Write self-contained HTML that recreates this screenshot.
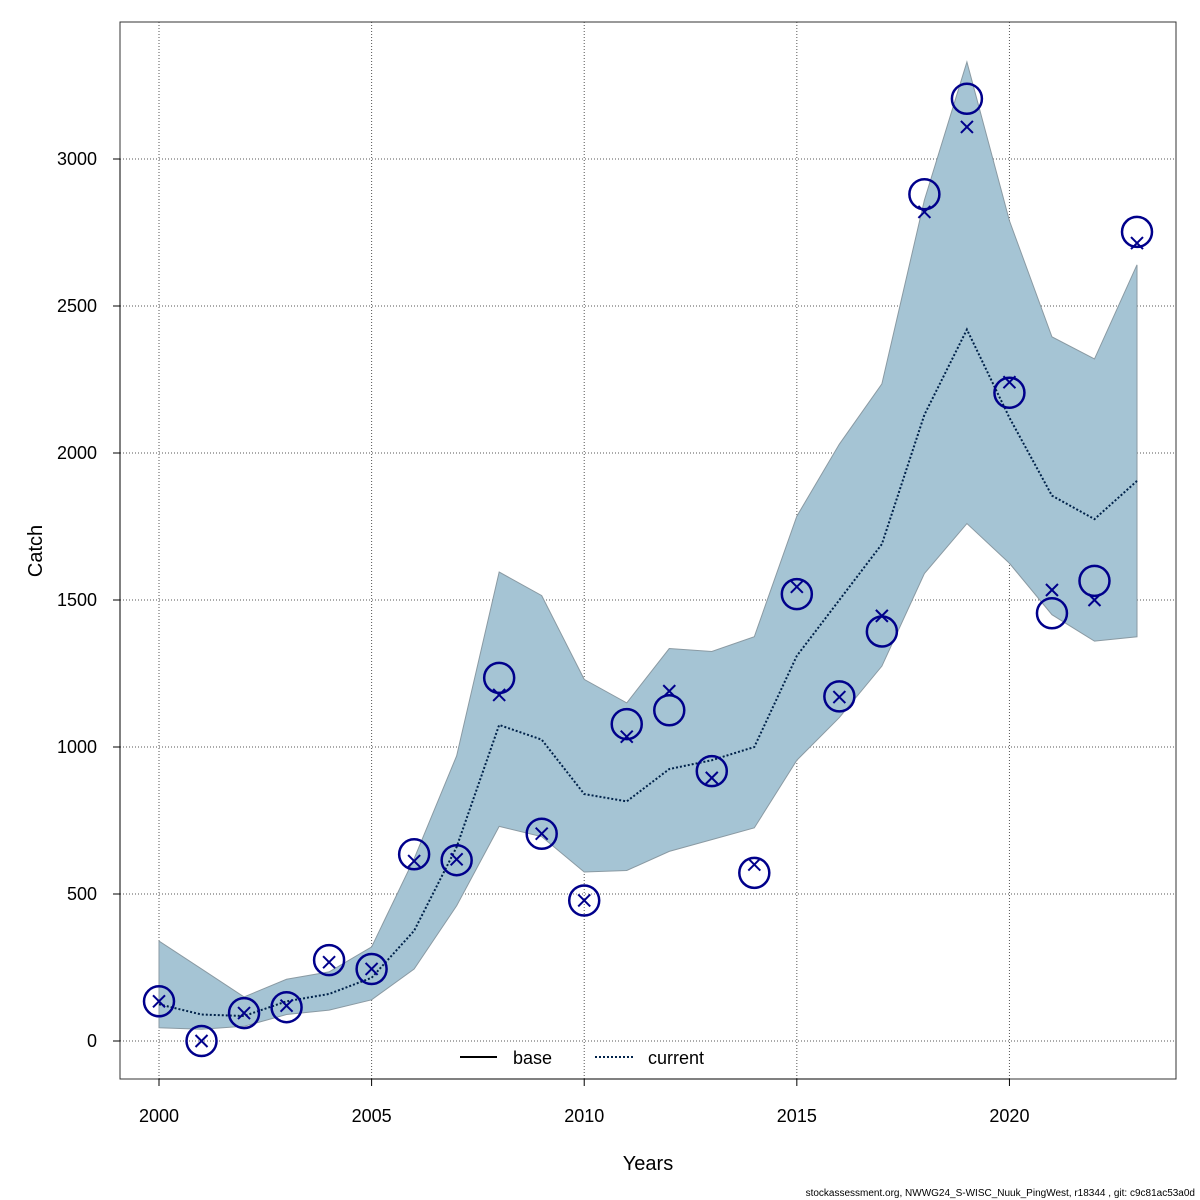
<!DOCTYPE html>
<html><head><meta charset="utf-8"><style>
html,body{margin:0;padding:0;background:#fff;}
svg{display:block;font-family:"Liberation Sans",sans-serif;}
</style></head><body>
<svg id="chart" width="1200" height="1200" viewBox="0 0 1200 1200"></svg>
<script>
const years=[2000,2001,2002,2003,2004,2005,2006,2007,2008,2009,2010,2011,2012,2013,2014,2015,2016,2017,2018,2019,2020,2021,2022,2023];
const observed=[135,0,95,115,275,245,635,615,1235,705,478,1078,1125,918,572,1520,1172,1393,2880,3205,2205,1455,1565,2752];
const predicted=[135,0,95,120,268,245,612,618,1177,705,478,1035,1190,895,600,1545,1170,1446,2820,3109,2241,1534,1500,2714];
const median=[125,90,85,135,160,215,375,660,1075,1025,840,815,925,955,1000,1310,1500,1690,2130,2420,2120,1855,1775,1905];
const upper=[340,245,150,210,235,320,620,970,1595,1515,1230,1150,1335,1325,1375,1785,2030,2235,2860,3330,2790,2395,2320,2640];
const lower=[45,40,50,90,105,140,245,460,730,695,575,580,645,685,725,955,1100,1275,1590,1760,1625,1450,1360,1375];
const xTicks=[2000,2005,2010,2015,2020];
const yTicks=[0,500,1000,1500,2000,2500,3000];

const NS="http://www.w3.org/2000/svg";
const svg=document.getElementById('chart');
const X=v=>159+(v-2000)*(1137-159)/23;
const Y=v=>1041-v*(1041-159)/3000;
function mk(tag,attrs,parent){const e=document.createElementNS(NS,tag);for(const k in attrs)e.setAttribute(k,attrs[k]);(parent||svg).appendChild(e);return e;}

const grid=mk('g',{});


xTicks.forEach(t=>{mk('line',{x1:X(t),x2:X(t),y1:22,y2:1079,stroke:'#555','stroke-width':1,'stroke-dasharray':'1,2'},grid);});
yTicks.forEach(t=>{mk('line',{x1:120,x2:1176,y1:Y(t),y2:Y(t),stroke:'#555','stroke-width':1,'stroke-dasharray':'1,2'},grid);});

let pts=years.map((y,i)=>X(y)+','+Y(upper[i]));
pts=pts.concat(years.slice().reverse().map((y,j)=>{const i=years.length-1-j;return X(y)+','+Y(lower[i]);}));
const band=mk('polygon',{points:pts.join(' '),fill:'#a5c4d4',stroke:'#8a9aa3','stroke-width':1});



const ml=mk('polyline',{points:years.map((y,i)=>X(y)+','+Y(median[i])).join(' '),fill:'none',stroke:'#00224a','stroke-width':2,'stroke-dasharray':'2,2'});



years.forEach((y,i)=>{const cx=X(y),cy=Y(predicted[i]),s=6;
const g=mk('g',{stroke:'#00008b','stroke-width':2});


mk('line',{x1:cx-s,y1:cy-s,x2:cx+s,y2:cy+s},g);mk('line',{x1:cx-s,y1:cy+s,x2:cx+s,y2:cy-s},g);});
years.forEach((y,i)=>{const c=mk('circle',{cx:X(y),cy:Y(observed[i]),r:15,fill:'none',stroke:'#00008b','stroke-width':2.5});

});

const fr=mk('rect',{x:120,y:22,width:1056,height:1057,fill:'none',stroke:'#333','stroke-width':1});


const xa=mk('g',{});


mk('line',{x1:X(2000),x2:X(2020),y1:1079,y2:1079,stroke:'#000'},xa);
xTicks.forEach(t=>{mk('line',{x1:X(t),x2:X(t),y1:1079,y2:1086,stroke:'#000'},xa);
const tx=mk('text',{x:X(t),y:1122,'text-anchor':'middle','font-size':18},xa);tx.textContent=t;});
const ya=mk('g',{});


mk('line',{x1:120,x2:120,y1:Y(0),y2:Y(3000),stroke:'#000'},ya);
yTicks.forEach(t=>{mk('line',{x1:113,x2:120,y1:Y(t),y2:Y(t),stroke:'#000'},ya);
const tx=mk('text',{x:97,y:Y(t)+6,'text-anchor':'end','font-size':18},ya);tx.textContent=t;});
const xt=mk('text',{x:648,y:1170,'text-anchor':'middle','font-size':20});xt.textContent='Years';


const yt=mk('text',{x:42,y:551,'text-anchor':'middle','font-size':20,transform:'rotate(-90 42 551)'});yt.textContent='Catch';



const lg=mk('g',{});


mk('line',{x1:460,x2:497,y1:1057,y2:1057,stroke:'#000','stroke-width':2},lg);
let t1=mk('text',{x:513,y:1064,'font-size':18},lg);t1.textContent='base';
mk('line',{x1:595,x2:633,y1:1057,y2:1057,stroke:'#00224a','stroke-width':2,'stroke-dasharray':'2,2'},lg);
let t2=mk('text',{x:648,y:1064,'font-size':18},lg);t2.textContent='current';

const ft=mk('text',{x:1195,y:1196,'text-anchor':'end','font-size':10});ft.textContent='stockassessment.org, NWWG24_S-WISC_Nuuk_PingWest, r18344 , git: c9c81ac53a0d';


</script>
</body></html>
